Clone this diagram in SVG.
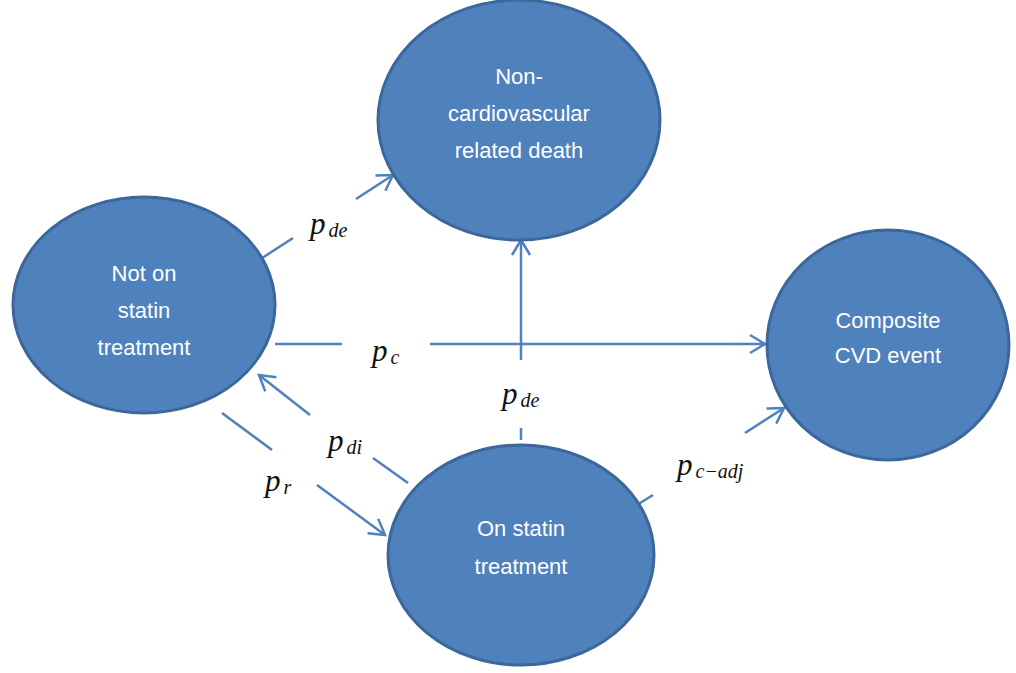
<svg xmlns="http://www.w3.org/2000/svg" width="1016" height="673" viewBox="0 0 1016 673">
<style>
.node{fill:#4F81BD;stroke:#3C679A;stroke-width:3}
.lbl{fill:#fff;font-family:"Liberation Sans",Arial,sans-serif;font-size:22px;text-anchor:middle}
.edge{stroke:#4F81BD;stroke-width:2.5;fill:none}
.m{font-family:"Liberation Serif","DejaVu Serif",serif;font-style:italic;fill:#111;font-size:31px}
.s{font-size:20px}
</style>
<defs>
<marker id="ah" markerUnits="userSpaceOnUse" markerWidth="30" markerHeight="30" refX="0" refY="0" viewBox="-20 -15 30 30" orient="auto" overflow="visible">
<path d="M-15,-9 L0,0 L-15,9" fill="none" stroke="#4F81BD" stroke-width="2.5"/>
</marker>
</defs>
<rect width="1016" height="673" fill="#fff"/>
<g id="connectors">
<path class="edge" d="M256,262 L293,238"/>
<path class="edge" d="M356,199 L393,175" marker-end="url(#ah)"/>
<path class="edge" d="M275,344 L342,344"/>
<path class="edge" d="M430,344 L765,344" marker-end="url(#ah)"/>
<path class="edge" d="M521,440 L521,428"/>
<path class="edge" d="M521,360 L521,240" marker-end="url(#ah)"/>
<path class="edge" d="M408,483 L373,458"/>
<path class="edge" d="M310,415 L259,375" marker-end="url(#ah)"/>
<path class="edge" d="M222,413 L272,450"/>
<path class="edge" d="M317,485 L385,535" marker-end="url(#ah)"/>
<path class="edge" d="M632,508 L653,495"/>
<path class="edge" d="M745,433 L784,408" marker-end="url(#ah)"/>
<text class="m" x="310" y="234">p<tspan class="s" dx="3" dy="3">de</tspan></text>
<text class="m" x="372" y="361">p<tspan class="s" dx="3" dy="3">c</tspan></text>
<text class="m" x="502" y="404">p<tspan class="s" dx="3" dy="3">de</tspan></text>
<text class="m" x="328" y="451">p<tspan class="s" dx="3" dy="3">di</tspan></text>
<text class="m" x="265" y="491">p<tspan class="s" dx="3" dy="3">r</tspan></text>
<text class="m" x="677" y="475">p<tspan class="s" dx="3" dy="3">c−adj</tspan></text>
</g>
<g id="not-on-statin">
<ellipse class="node" cx="144" cy="305" rx="131" ry="108"/>
<text class="lbl" x="144" y="281">Not on</text>
<text class="lbl" x="144" y="318">statin</text>
<text class="lbl" x="144" y="355">treatment</text>
</g>
<g id="non-cv-death">
<ellipse class="node" cx="519" cy="120" rx="141" ry="120"/>
<text class="lbl" x="519" y="84">Non-</text>
<text class="lbl" x="519" y="121">cardiovascular</text>
<text class="lbl" x="519" y="158">related death</text>
</g>
<g id="composite-cvd">
<ellipse class="node" cx="888" cy="345" rx="121" ry="115"/>
<text class="lbl" x="888" y="328">Composite</text>
<text class="lbl" x="888" y="363">CVD event</text>
</g>
<g id="on-statin">
<ellipse class="node" cx="521" cy="555" rx="133" ry="110"/>
<text class="lbl" x="521" y="536">On statin</text>
<text class="lbl" x="521" y="574">treatment</text>
</g>
</svg>
